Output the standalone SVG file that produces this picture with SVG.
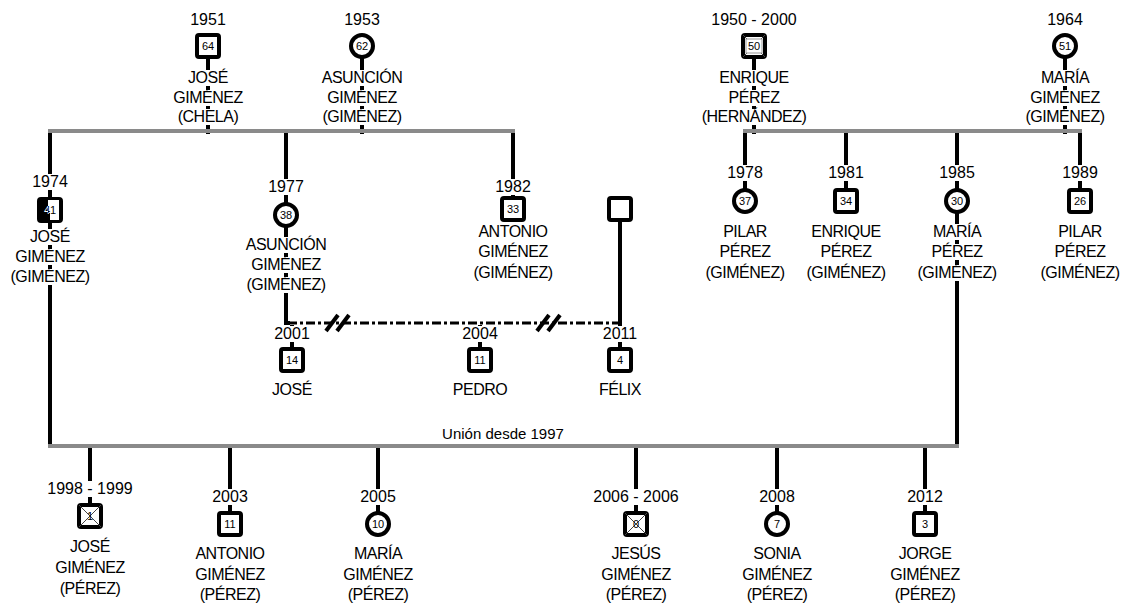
<svg xmlns="http://www.w3.org/2000/svg" width="1126" height="608" viewBox="0 0 1126 608">
<style>
text{font-family:"Liberation Sans",Arial,sans-serif;fill:#000;text-anchor:middle}
.yr{font-size:16px}
.nm{font-size:16px;letter-spacing:-0.5px}
.age{font-size:11px}
.lbl{font-size:15px}
.sym{fill:#fff;stroke:#000;stroke-width:4}
.bg{fill:#fff}
.kin{stroke:#000;stroke-width:4;fill:none}
.union{stroke:#8a8a8a;stroke-width:4;fill:none}
.dashu{stroke:#000;stroke-width:3;stroke-dasharray:9 3 3 3;fill:none}
.slash{stroke:#000;stroke-width:4}
.x{stroke:#444;stroke-width:1}
</style>
<defs>
<clipPath id="c41"><polygon points="48,200 59,200 59,220 50,220 50,213 48,213"/></clipPath>
</defs>

<g id="connectors">
  <!-- parents to unions -->
  <line class="kin" x1="208" y1="58" x2="208" y2="134"/>
  <line class="kin" x1="362" y1="58" x2="362" y2="134"/>
  <line class="kin" x1="754" y1="58" x2="754" y2="134"/>
  <line class="kin" x1="1065" y1="58" x2="1065" y2="134"/>
  <!-- children of left family -->
  <line class="kin" x1="50" y1="131" x2="50" y2="446"/>
  <polyline class="kin" points="286,131 286,323 290,323"/>
  <line class="kin" x1="513" y1="131" x2="513" y2="198"/>
  <!-- children of right family -->
  <line class="kin" x1="745" y1="131" x2="745" y2="190"/>
  <line class="kin" x1="846" y1="131" x2="846" y2="190"/>
  <line class="kin" x1="957" y1="131" x2="957" y2="446"/>
  <line class="kin" x1="1080" y1="131" x2="1080" y2="190"/>
  <!-- dashed union -->
  <line class="kin" x1="620" y1="220" x2="620" y2="324"/>
  <line class="dashu" x1="288" y1="323" x2="619" y2="323"/>
  <line class="slash" x1="326" y1="331" x2="338" y2="315"/>
  <line class="slash" x1="337" y1="331" x2="349" y2="315"/>
  <line class="slash" x1="537" y1="331" x2="549" y2="315"/>
  <line class="slash" x1="548" y1="331" x2="560" y2="315"/>
  <line class="kin" x1="292" y1="325" x2="292" y2="350"/>
  <line class="kin" x1="480" y1="325" x2="480" y2="350"/>
  <line class="kin" x1="620" y1="323" x2="620" y2="350"/>
  <!-- children of bottom union -->
  <line class="kin" x1="90" y1="446" x2="90" y2="505"/>
  <line class="kin" x1="230" y1="446" x2="230" y2="513"/>
  <line class="kin" x1="378" y1="446" x2="378" y2="513"/>
  <line class="kin" x1="636" y1="446" x2="636" y2="513"/>
  <line class="kin" x1="777" y1="446" x2="777" y2="513"/>
  <line class="kin" x1="925" y1="446" x2="925" y2="513"/>
  <!-- union bars -->
  <line class="union" x1="48" y1="131" x2="515" y2="131"/>
  <line class="union" x1="743" y1="131" x2="1082" y2="131"/>
  <line class="union" x1="48" y1="446" x2="959" y2="446"/>
  <text class="lbl" x="503" y="439">Unión desde 1997</text>
</g>

<g id="n-jose-1951">
  <rect class="bg" x="201" y="70" width="14" height="16"/>
  <rect class="bg" x="201" y="90" width="14" height="16"/>
  <rect class="bg" x="201" y="109" width="14" height="16"/>
  <text class="yr" x="208" y="25">1951</text>
  <rect class="sym" x="197" y="35" width="22" height="22" rx="2"/>
  <text class="age" x="208" y="50">64</text>
  <text class="nm" x="208" y="83">JOSÉ</text>
  <text class="nm" x="208" y="103">GIMÉNEZ</text>
  <text class="nm" x="208" y="122">(CHELA)</text>
</g>

<g id="n-asuncion-1953">
  <rect class="bg" x="355" y="70" width="14" height="16"/>
  <rect class="bg" x="355" y="90" width="14" height="16"/>
  <rect class="bg" x="355" y="109" width="14" height="16"/>
  <text class="yr" x="362" y="25">1953</text>
  <circle class="sym" cx="362" cy="46" r="11"/>
  <text class="age" x="362" y="50">62</text>
  <text class="nm" x="362" y="83">ASUNCIÓN</text>
  <text class="nm" x="362" y="103">GIMÉNEZ</text>
  <text class="nm" x="362" y="122">(GIMÉNEZ)</text>
</g>

<g id="n-enrique-1950">
  <rect class="bg" x="747" y="70" width="14" height="16"/>
  <rect class="bg" x="747" y="90" width="14" height="16"/>
  <rect class="bg" x="747" y="109" width="14" height="16"/>
  <text class="yr" x="754" y="25">1950 - 2000</text>
  <rect class="sym" x="743" y="35" width="22" height="22" rx="2"/>
  <line class="x" x1="743" y1="35" x2="765" y2="57"/>
  <line class="x" x1="765" y1="35" x2="743" y2="57"/>
  <rect x="746" y="39" width="16" height="14" fill="#fff" stroke="#999" stroke-width="1"/>
  <text class="age" x="754" y="50">50</text>
  <text class="nm" x="754" y="83">ENRIQUE</text>
  <text class="nm" x="754" y="103">PÉREZ</text>
  <text class="nm" x="754" y="122">(HERNÁNDEZ)</text>
</g>

<g id="n-maria-1964">
  <rect class="bg" x="1058" y="70" width="14" height="16"/>
  <rect class="bg" x="1058" y="90" width="14" height="16"/>
  <rect class="bg" x="1058" y="109" width="14" height="16"/>
  <text class="yr" x="1065" y="25">1964</text>
  <circle class="sym" cx="1065" cy="46" r="11"/>
  <text class="age" x="1065" y="50">51</text>
  <text class="nm" x="1065" y="83">MARÍA</text>
  <text class="nm" x="1065" y="103">GIMÉNEZ</text>
  <text class="nm" x="1065" y="122">(GIMÉNEZ)</text>
</g>

<g id="n-jose-1974">
  <rect class="bg" x="43" y="174" width="14" height="16"/>
  <rect class="bg" x="43" y="229" width="14" height="16"/>
  <rect class="bg" x="43" y="249" width="14" height="16"/>
  <rect class="bg" x="43" y="269" width="14" height="16"/>
  <text class="yr" x="50" y="187">1974</text>
  <rect x="39" y="199" width="22" height="22" rx="2" fill="#000" stroke="#000" stroke-width="4"/>
  <polygon points="48,200 59,200 59,220 50,220 50,213 48,213" fill="#fff"/>
  <text class="age" x="50" y="214" style="fill:#fff">41</text>
  <text class="age" x="50" y="214" clip-path="url(#c41)">41</text>
  <text class="nm" x="50" y="242">JOSÉ</text>
  <text class="nm" x="50" y="262">GIMÉNEZ</text>
  <text class="nm" x="50" y="282">(GIMÉNEZ)</text>
</g>

<g id="n-asuncion-1977">
  <rect class="bg" x="279" y="179" width="14" height="16"/>
  <rect class="bg" x="279" y="237" width="14" height="16"/>
  <rect class="bg" x="279" y="257" width="14" height="16"/>
  <rect class="bg" x="279" y="277" width="14" height="16"/>
  <text class="yr" x="286" y="192">1977</text>
  <circle class="sym" cx="286" cy="215" r="11"/>
  <text class="age" x="286" y="219">38</text>
  <text class="nm" x="286" y="250">ASUNCIÓN</text>
  <text class="nm" x="286" y="270">GIMÉNEZ</text>
  <text class="nm" x="286" y="290">(GIMÉNEZ)</text>
</g>

<g id="n-antonio-1982">
  <rect class="bg" x="506" y="179" width="14" height="16"/>
  <text class="yr" x="513" y="192">1982</text>
  <rect class="sym" x="502" y="198" width="22" height="22" rx="2"/>
  <text class="age" x="513" y="213">33</text>
  <text class="nm" x="513" y="237">ANTONIO</text>
  <text class="nm" x="513" y="257">GIMÉNEZ</text>
  <text class="nm" x="513" y="278">(GIMÉNEZ)</text>
</g>

<g id="n-partner">
  <rect class="sym" x="609" y="198" width="22" height="22" rx="2"/>
</g>

<g id="n-pilar-1978">
  <rect class="bg" x="738" y="165" width="14" height="16"/>
  <text class="yr" x="745" y="178">1978</text>
  <circle class="sym" cx="745" cy="201" r="11"/>
  <text class="age" x="745" y="205">37</text>
  <text class="nm" x="745" y="237">PILAR</text>
  <text class="nm" x="745" y="257">PÉREZ</text>
  <text class="nm" x="745" y="278">(GIMÉNEZ)</text>
</g>

<g id="n-enrique-1981">
  <rect class="bg" x="839" y="165" width="14" height="16"/>
  <text class="yr" x="846" y="178">1981</text>
  <rect class="sym" x="835" y="190" width="22" height="22" rx="2"/>
  <text class="age" x="846" y="205">34</text>
  <text class="nm" x="846" y="237">ENRIQUE</text>
  <text class="nm" x="846" y="257">PÉREZ</text>
  <text class="nm" x="846" y="278">(GIMÉNEZ)</text>
</g>

<g id="n-maria-1985">
  <rect class="bg" x="950" y="165" width="14" height="16"/>
  <rect class="bg" x="950" y="224" width="14" height="16"/>
  <rect class="bg" x="950" y="244" width="14" height="16"/>
  <rect class="bg" x="950" y="265" width="14" height="16"/>
  <text class="yr" x="957" y="178">1985</text>
  <circle class="sym" cx="957" cy="201" r="11"/>
  <text class="age" x="957" y="205">30</text>
  <text class="nm" x="957" y="237">MARÍA</text>
  <text class="nm" x="957" y="257">PÉREZ</text>
  <text class="nm" x="957" y="278">(GIMÉNEZ)</text>
</g>

<g id="n-pilar-1989">
  <rect class="bg" x="1073" y="165" width="14" height="16"/>
  <text class="yr" x="1080" y="178">1989</text>
  <rect class="sym" x="1069" y="190" width="22" height="22" rx="2"/>
  <text class="age" x="1080" y="205">26</text>
  <text class="nm" x="1080" y="237">PILAR</text>
  <text class="nm" x="1080" y="257">PÉREZ</text>
  <text class="nm" x="1080" y="278">(GIMÉNEZ)</text>
</g>

<g id="n-jose-2001">
  <rect class="bg" x="285" y="326" width="14" height="16"/>
  <text class="yr" x="292" y="339">2001</text>
  <rect class="sym" x="281" y="349" width="22" height="22" rx="2"/>
  <text class="age" x="292" y="364">14</text>
  <text class="nm" x="292" y="395">JOSÉ</text>
</g>

<g id="n-pedro-2004">
  <rect class="bg" x="473" y="326" width="14" height="16"/>
  <text class="yr" x="480" y="339">2004</text>
  <rect class="sym" x="469" y="349" width="22" height="22" rx="2"/>
  <text class="age" x="480" y="364">11</text>
  <text class="nm" x="480" y="395">PEDRO</text>
</g>

<g id="n-felix-2011">
  <rect class="bg" x="613" y="326" width="14" height="16"/>
  <text class="yr" x="620" y="339">2011</text>
  <rect class="sym" x="609" y="349" width="22" height="22" rx="2"/>
  <text class="age" x="620" y="364">4</text>
  <text class="nm" x="620" y="395">FÉLIX</text>
</g>

<g id="n-jose-1998">
  <rect class="bg" x="83" y="481" width="14" height="16"/>
  <text class="yr" x="90" y="494">1998 - 1999</text>
  <rect class="sym" x="79" y="505" width="22" height="22" rx="2"/>
  <line class="x" x1="79" y1="505" x2="101" y2="527"/>
  <line class="x" x1="101" y1="505" x2="79" y2="527"/>
  <text class="age" x="90" y="520">1</text>
  <text class="nm" x="90" y="552">JOSÉ</text>
  <text class="nm" x="90" y="573">GIMÉNEZ</text>
  <text class="nm" x="90" y="594">(PÉREZ)</text>
</g>

<g id="n-antonio-2003">
  <rect class="bg" x="223" y="489" width="14" height="16"/>
  <text class="yr" x="230" y="502">2003</text>
  <rect class="sym" x="219" y="513" width="22" height="22" rx="2"/>
  <text class="age" x="230" y="528">11</text>
  <text class="nm" x="230" y="559">ANTONIO</text>
  <text class="nm" x="230" y="580">GIMÉNEZ</text>
  <text class="nm" x="230" y="600">(PÉREZ)</text>
</g>

<g id="n-maria-2005">
  <rect class="bg" x="371" y="489" width="14" height="16"/>
  <text class="yr" x="378" y="502">2005</text>
  <circle class="sym" cx="378" cy="524" r="11"/>
  <text class="age" x="378" y="528">10</text>
  <text class="nm" x="378" y="559">MARÍA</text>
  <text class="nm" x="378" y="580">GIMÉNEZ</text>
  <text class="nm" x="378" y="600">(PÉREZ)</text>
</g>

<g id="n-jesus-2006">
  <rect class="bg" x="629" y="489" width="14" height="16"/>
  <text class="yr" x="636" y="502">2006 - 2006</text>
  <rect class="sym" x="625" y="513" width="22" height="22" rx="2"/>
  <line class="x" x1="625" y1="513" x2="647" y2="535"/>
  <line class="x" x1="647" y1="513" x2="625" y2="535"/>
  <text class="age" x="636" y="528">0</text>
  <text class="nm" x="636" y="559">JESÚS</text>
  <text class="nm" x="636" y="580">GIMÉNEZ</text>
  <text class="nm" x="636" y="600">(PÉREZ)</text>
</g>

<g id="n-sonia-2008">
  <rect class="bg" x="770" y="489" width="14" height="16"/>
  <text class="yr" x="777" y="502">2008</text>
  <circle class="sym" cx="777" cy="524" r="11"/>
  <text class="age" x="777" y="528">7</text>
  <text class="nm" x="777" y="559">SONIA</text>
  <text class="nm" x="777" y="580">GIMÉNEZ</text>
  <text class="nm" x="777" y="600">(PÉREZ)</text>
</g>

<g id="n-jorge-2012">
  <rect class="bg" x="918" y="489" width="14" height="16"/>
  <text class="yr" x="925" y="502">2012</text>
  <rect class="sym" x="914" y="513" width="22" height="22" rx="2"/>
  <text class="age" x="925" y="528">3</text>
  <text class="nm" x="925" y="559">JORGE</text>
  <text class="nm" x="925" y="580">GIMÉNEZ</text>
  <text class="nm" x="925" y="600">(PÉREZ)</text>
</g>
</svg>
